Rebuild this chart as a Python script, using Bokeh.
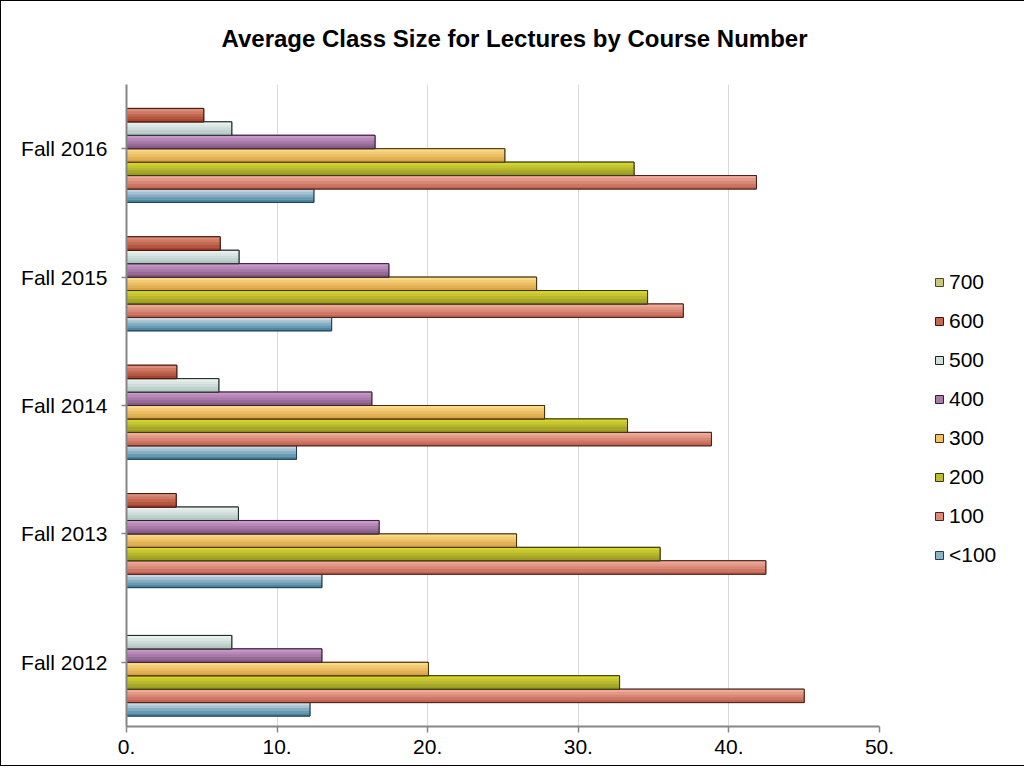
import math
from bokeh.plotting import figure
from bokeh.models import (FactorRange, Range1d, FixedTicker, Legend, LegendItem,
                          ColumnDataSource, Title)
from bokeh.transform import dodge
from bokeh.embed import file_html
from bokeh.resources import INLINE

NaN = float("nan")

# ---------------- data ----------------
years = ["Fall 2012", "Fall 2013", "Fall 2014", "Fall 2015", "Fall 2016"]
series = ["<100", "100", "200", "300", "400", "500", "600", "700"]

v_lt100 = [12.18, 12.97, 11.29, 13.62, 12.44]
v_100 = [45.00, 42.45, 38.84, 36.97, 41.83]
v_200 = [32.74, 35.43, 33.27, 34.60, 33.70]
v_300 = [20.05, 25.90, 27.76, 27.23, 25.12]
v_400 = [12.97, 16.77, 16.29, 17.42, 16.50]
v_500 = [6.99, 7.43, 6.13, 7.47, 6.99]
v_600 = [NaN, 3.30, 3.34, 6.22, 5.13]
v_700 = [NaN, NaN, NaN, NaN, NaN]

x_ticks = [0, 10, 20, 30, 40, 50]
x_tick_labels = ["0.", "10.", "20.", "30.", "40.", "50."]

title_text = "Average Class Size for Lectures by Course Number"

# ---------------- styles ----------------
tops = ["#c3d8e2", "#eeaa9a", "#d4d430", "#fcd985", "#c899c8", "#e8f0ee", "#dd8d76", "#dcdc90"]
bottoms = ["#4a85a2", "#c26552", "#9a9a26", "#daa245", "#875a87", "#b2c7c1", "#a8432f", "#aaa650"]
mids = ["#8fb3c6", "#dc8b7a", "#bdbd2c", "#f2c261", "#ab7bab", "#d0dfdb", "#c66650", "#c9c77a"]
lines = ["#1f3f50", "#4a2018", "#35350c", "#40300c", "#35203a", "#1e2422", "#401510", "#4a4a1c"]

FONT = "Liberation Sans"
cols = ["s0", "s1", "s2", "s3", "s4", "s5", "s6", "s7"]
values = [v_lt100, v_100, v_200, v_300, v_400, v_500, v_600, v_700]


def mix(c1, c2, t):
    a = [int(c1[i:i + 2], 16) for i in (1, 3, 5)]
    b = [int(c2[i:i + 2], 16) for i in (1, 3, 5)]
    return "#%02x%02x%02x" % tuple(round(a[j] + (b[j] - a[j]) * t) for j in range(3))


data = {"year": years}
for c, v in zip(cols, values):
    data[c] = v
src = ColumnDataSource(data)

p = figure(
    y_range=FactorRange(*years, range_padding=0, factor_padding=0),
    x_range=Range1d(0, 50),
    frame_width=753, frame_height=642,
    min_border_left=125, min_border_right=112, min_border_top=83, min_border_bottom=39,
    output_backend="svg", toolbar_location=None,
)
p.styles = {"border": "1px solid #000000"}
p.outline_line_color = None
p.background_fill_color = "white"
p.border_fill_color = "white"

h = 0.1046
NS = 5
renderers = []
for i, c in enumerate(cols):
    base = (i - 3.5) * h
    r = p.hbar(y=dodge("year", base, range=p.y_range), left=0, right=c,
               height=h, source=src, fill_color=mids[i], line_color=lines[i], line_width=1)
    renderers.append(r)
    # vertical shading: lighter at top, darker at bottom
    for k in range(NS):
        off = base - h / 2 + (k + 0.5) * h / NS
        col = mix(bottoms[i], tops[i], k / (NS - 1))
        p.hbar(y=dodge("year", off, range=p.y_range), left=0, right=c,
               height=h / NS * 1.08, source=src, fill_color=col, line_color=None)
    p.hbar(y=dodge("year", base, range=p.y_range), left=0, right=c,
           height=h, source=src, fill_color=None, line_color=lines[i], line_width=1)

# spacer between frame and title
p.add_layout(Title(text=" ", text_font_size="1px", standoff=30), "above")

# title
p.title.text = title_text
p.title.align = "left"
p.title.offset = 95
p.title.text_font = FONT
p.title.text_font_size = "24px"
p.title.text_font_style = "bold"
p.title.text_color = "#000000"
p.title.standoff = 0

# axes
p.xaxis.ticker = FixedTicker(ticks=x_ticks)
p.xaxis.major_label_overrides = {t: l for t, l in zip(x_ticks, x_tick_labels)}
for ax in (p.xaxis[0], p.yaxis[0]):
    ax.axis_line_color = "#868686"
    ax.axis_line_width = 2
    ax.major_tick_line_color = "#868686"
    ax.major_tick_line_width = 1.5
    ax.major_tick_in = 0
    ax.minor_tick_line_color = None
    ax.major_label_text_font = FONT
    ax.major_label_text_font_size = "21px"
    ax.major_label_text_color = "#000000"
p.xaxis.major_tick_out = 6
p.xaxis.major_label_standoff = 7
p.yaxis.major_tick_out = 5
p.yaxis.major_label_standoff = 14

p.xgrid.grid_line_color = "#d9d9d9"
p.xgrid.grid_line_width = 1
p.ygrid.grid_line_color = None

# legend: 700 at top down to <100
items = [LegendItem(label=series[i], renderers=[renderers[i]]) for i in range(7, -1, -1)]
legend = Legend(items=items, location=(55, 159), orientation="vertical",
                border_line_color=None, background_fill_alpha=0,
                padding=0, margin=0, spacing=15, label_height=21,
                glyph_height=10, glyph_width=10, label_standoff=5,
                label_text_font=FONT, label_text_font_size="21px",
                label_text_color="#000000")
p.add_layout(legend, "right")

open("out.html", "w").write(file_html(p, INLINE))
